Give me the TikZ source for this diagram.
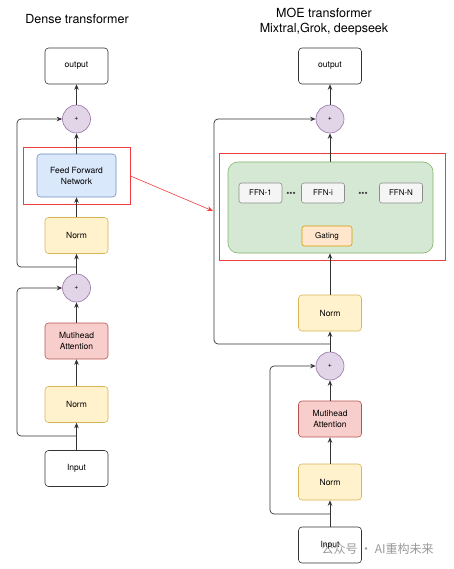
\documentclass[tikz,border=0pt]{standalone}
\usepackage{fontspec}
\setmainfont{TeX Gyre Heros}
\newfontfamily\cjk{Noto Sans CJK SC}
\usetikzlibrary{arrows.meta}
\definecolor{normfill}{HTML}{FFF2CC}\definecolor{normline}{HTML}{D6B656}
\definecolor{attnfill}{HTML}{F8CECC}\definecolor{attnline}{HTML}{B85450}
\definecolor{ffnfill}{HTML}{DAE8FC}\definecolor{ffnline}{HTML}{6C8EBF}
\definecolor{addfill}{HTML}{E1D5E7}\definecolor{addline}{HTML}{9673A6}
\definecolor{moefill}{HTML}{D5E8D4}\definecolor{moeline}{HTML}{82B366}
\definecolor{expfill}{HTML}{F5F5F5}\definecolor{expline}{HTML}{8C8C8C}
\definecolor{gatefill}{HTML}{FFE6CC}\definecolor{gateline}{HTML}{D79B00}
\definecolor{framered}{HTML}{F03C3C}
\tikzset{
    block/.style={draw, rounded corners=3.5pt, line width=0.6pt, align=center,
        minimum width=63pt, minimum height=36pt, inner sep=1pt,
        font=\fontsize{8.5}{11}\selectfont},
    plainbox/.style={block, draw=black!80, fill=white},
    normbox/.style={block, draw=normline, fill=normfill},
    attnbox/.style={block, draw=attnline, fill=attnfill},
    ffnbox/.style={block, draw=ffnline, fill=ffnfill, minimum width=79pt, minimum height=43pt},
    addnode/.style={circle, draw=addline, fill=addfill, line width=0.6pt, minimum size=28pt,
        inner sep=0pt, font=\fontsize{7}{8}\selectfont},
    expert/.style={block, draw=expline, fill=expfill, minimum width=43pt, minimum height=20pt,
        rounded corners=2.5pt, font=\fontsize{8}{9}\selectfont},
    dotsnode/.style={font=\fontsize{9}{9}\selectfont, inner sep=0pt, text=black!75},
    redframe/.style={draw=framered, line width=1pt, inner sep=0pt},
    line/.style={draw=black!80, line width=0.7pt, >={Stealth[length=5.5pt,width=4.5pt]}},
}
% residual branch: #1 name, #2 target add node, #3 branch height, #4 left x
\newcommand\Residual[4]{%
    \coordinate (#1) at (#2 |- 0,#3);
    \draw[line, ->, rounded corners=4pt] (#1) -- (#4,#3) |- (#2.west);
}

\begin{document}
\begin{tikzpicture}[x=1pt, y=-1pt]
    \useasboundingbox (0,0) rectangle (454,569);

    % dense transformer
    \node[font=\fontsize{12.5}{15}\selectfont] (densetitle) at (77,19) {Dense transformer};
    \node[plainbox] (dout) at (76.5,66) {output};
    \node[addnode] (dadd2) at (76.5,119) {+};
    \node[ffnbox] (dffn) at (76.5,175.5) {Feed Forward\\Network};
    \node[redframe, minimum width=107pt, minimum height=56pt] (dframe) at (76.5,176) {};
    \node[normbox] (dnorm2) at (76.5,235.5) {Norm};
    \node[addnode] (dadd1) at (76.5,288) {+};
    \node[attnbox] (dattn) at (76.5,341) {Mutihead\\Attention};
    \node[normbox] (dnorm1) at (76.5,404.5) {Norm};
    \node[plainbox] (din) at (76.5,468.5) {Input};

    \draw[line, ->] (din) -- (dnorm1);
    \draw[line, ->] (dnorm1) -- (dattn);
    \draw[line, ->] (dattn) -- (dadd1);
    \draw[line, ->] (dadd1) -- (dnorm2);
    \draw[line, ->] (dnorm2) -- (dffn);
    \draw[line, ->] (dffn) -- (dadd2);
    \draw[line, ->] (dadd2) -- (dout);
    \Residual{dres1}{dadd1}{436}{17}
    \Residual{dres2}{dadd2}{267}{17}

    % moe transformer
    \node[font=\fontsize{12.5}{15}\selectfont, align=center] (moetitle) at (324,21.5)
        {MOE transformer\\Mixtral,Grok, deepseek};
    \node[plainbox] (mout) at (330,66) {output};
    \node[addnode] (madd2) at (330,119) {+};
    \node[redframe, minimum width=226pt, minimum height=106pt] (mframe) at (332,207) {};
    \node[draw=moeline, fill=moefill, line width=0.6pt, rounded corners=10pt,
        minimum width=205pt, minimum height=91pt] (moe) at (330.5,207.5) {};
    \node[expert] (ffn1) at (260.5,193) {FFN-1};
    \node[expert] (ffni) at (323,193) {FFN-i};
    \node[expert] (ffnN) at (401,193) {FFN-N};
    \node[dotsnode] (dots1) at (291,194) {\textbullet\textbullet\textbullet};
    \node[dotsnode] (dots2) at (363,194) {\textbullet\textbullet\textbullet};
    \node[expert, draw=gateline, fill=gatefill, minimum width=50pt] (gate) at (327,236) {Gating};
    \node[normbox] (mnorm2) at (330,313) {Norm};
    \node[addnode] (madd1) at (330,366) {+};
    \node[attnbox] (mattn) at (330,419) {Mutihead\\Attention};
    \node[normbox] (mnorm1) at (330,482) {Norm};
    \node[plainbox] (min) at (330,545) {Input};

    \draw[line, ->] (min) -- (mnorm1);
    \draw[line, ->] (mnorm1) -- (mattn);
    \draw[line, ->] (mattn) -- (madd1);
    \draw[line, ->] (madd1) -- (mnorm2);
    \draw[line, ->] (mnorm2) -- (moe.south -| mnorm2);
    \draw[line, ->] (moe.north -| madd2) -- (madd2);
    \draw[line, ->] (madd2) -- (mout);
    \Residual{mres1}{madd1}{514}{270}
    \Residual{mres2}{madd2}{344}{214}

    % link between the frames
    \coordinate (linkend) at (213,211);
    \draw[draw=framered, line width=0.6pt, -{Stealth[length=6pt,width=5pt]}]
        (dframe.east |- 0,176) -- (linkend);

    % watermark
    \node[text=black!40, font=\cjk\fontsize{12}{14}\selectfont, anchor=west] (mark) at (318,549)
        {公众号 · AI重构未来};
\end{tikzpicture}
\end{document}
